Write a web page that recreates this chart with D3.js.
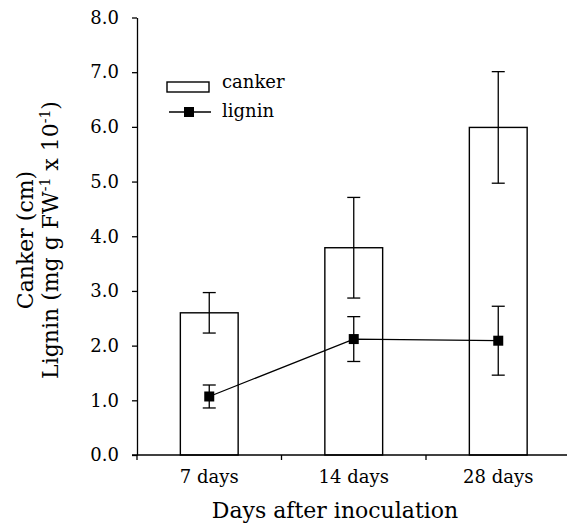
<!DOCTYPE html>
<html>
<head>
  <meta charset="utf-8">
  <title>Canker and lignin after inoculation</title>
  <script src="https://d3js.org/d3.v7.min.js"></script>
  <style>
    body {
      margin: 0;
      background: #fff;
      font-family: "DejaVu Serif", serif;
    }
    .axis path, .axis line {
      stroke: #000;
      stroke-width: 1.3px;
    }
    .axis text {
      font-family: "DejaVu Serif", serif;
      font-size: 18px;
      fill: #000;
    }
    .bar {
      fill: #fff;
      stroke: #000;
      stroke-width: 1.4px;
    }
    .err {
      stroke: #000;
      stroke-width: 1.3px;
    }
    .lignin-line {
      fill: none;
      stroke: #000;
      stroke-width: 1.3px;
    }
    .title {
      font-family: "DejaVu Serif", serif;
      font-size: 22px;
      fill: #000;
    }
    .legend-text {
      font-family: "DejaVu Serif", serif;
      font-size: 18px;
      fill: #000;
    }
  </style>
</head>
<body>
  <div id="chart"></div>

  <script>
    // data
    const days = ["7 days", "14 days", "28 days"];
    const canker = [2.6, 3.79, 5.99];
    const cankerErr = [0.37, 0.92, 1.02];
    const lignin = [1.07, 2.12, 2.09];
    const ligninErr = [0.21, 0.41, 0.63];
    const yTicks = [0, 1, 2, 3, 4, 5, 6, 7, 8];

    const W = 567, H = 525;
    const plot = { left: 137, right: 570.5, top: 17.5, bottom: 455 };

    const svg = d3.select("#chart")
      .append("svg")
      .attr("width", W)
      .attr("height", H);

    // scales
    const x = d3.scaleBand()
      .domain(days)
      .range([plot.left, plot.right])
      .paddingInner(0)
      .paddingOuter(0);
    const y = d3.scaleLinear().domain([0, 8]).range([plot.bottom, plot.top]);

    const barW = x.bandwidth() * 0.4;
    const cx = d => x(d) + x.bandwidth() / 2;

    // bars
    svg.selectAll(".bar")
      .data(days)
      .enter()
      .append("rect")
      .attr("class", "bar")
      .attr("x", d => cx(d) - barW / 2)
      .attr("width", barW)
      .attr("y", (d, i) => y(canker[i]))
      .attr("height", (d, i) => y(0) - y(canker[i]));

    // error bars helper
    function errorBars(cls, vals, errs) {
      const g = svg.append("g").attr("class", cls);
      const capW = 6.5;
      days.forEach((d, i) => {
        const hi = y(vals[i] + errs[i]), lo = y(vals[i] - errs[i]);
        g.append("line").attr("class", "err")
          .attr("x1", cx(d)).attr("x2", cx(d)).attr("y1", hi).attr("y2", lo);
        g.append("line").attr("class", "err")
          .attr("x1", cx(d) - capW).attr("x2", cx(d) + capW).attr("y1", hi).attr("y2", hi);
        g.append("line").attr("class", "err")
          .attr("x1", cx(d) - capW).attr("x2", cx(d) + capW).attr("y1", lo).attr("y2", lo);
      });
    }
    errorBars("canker-err", canker, cankerErr);
    errorBars("lignin-err", lignin, ligninErr);

    // lignin line and markers
    const line = d3.line()
      .x((d, i) => cx(days[i]))
      .y(d => y(d));
    svg.append("path")
      .datum(lignin)
      .attr("class", "lignin-line")
      .attr("d", line);

    svg.selectAll(".marker")
      .data(lignin)
      .enter()
      .append("rect")
      .attr("class", "marker")
      .attr("x", (d, i) => cx(days[i]) - 5)
      .attr("y", d => y(d) - 5)
      .attr("width", 10)
      .attr("height", 10)
      .attr("fill", "#000");

    // y axis
    svg.append("g")
      .attr("class", "axis")
      .attr("transform", `translate(${plot.left},0)`)
      .call(d3.axisLeft(y).tickValues(yTicks).tickFormat(d3.format(".1f"))
        .tickSizeInner(5).tickSizeOuter(0).tickPadding(13));

    // x axis: ticks at category boundaries
    const xAxis = svg.append("g")
      .attr("class", "axis")
      .attr("transform", `translate(0,${plot.bottom})`);
    xAxis.append("line")
      .attr("x1", plot.left - 5).attr("x2", plot.right)
      .attr("y1", 0).attr("y2", 0);
    xAxis.selectAll(".xtick")
      .data(days)
      .enter()
      .append("line")
      .attr("class", "xtick")
      .attr("x1", d => x(d)).attr("x2", d => x(d))
      .attr("y1", 0).attr("y2", 5);
    xAxis.selectAll(".xlabel")
      .data(days)
      .enter()
      .append("text")
      .attr("class", "xlabel")
      .attr("x", d => cx(d))
      .attr("y", 28)
      .attr("text-anchor", "middle")
      .text(d => d);

    // axis titles
    svg.append("text")
      .attr("class", "title")
      .attr("x", 335)
      .attr("y", 518)
      .attr("text-anchor", "middle")
      .text("Days after inoculation");

    const yTitle = svg.append("text")
      .attr("class", "title")
      .attr("transform", "translate(0,240) rotate(-90)")
      .attr("text-anchor", "middle");
    yTitle.append("tspan").attr("x", 0).attr("y", 33).text("Canker (cm)");
    const l2 = yTitle.append("tspan").attr("x", 0).attr("y", 58);
    l2.append("tspan").text("Lignin (mg g FW");
    l2.append("tspan").attr("dy", -8).style("font-size", "14px").text("-1");
    l2.append("tspan").attr("dy", 8).text(" x 10");
    l2.append("tspan").attr("dy", -8).style("font-size", "14px").text("-1");
    l2.append("tspan").attr("dy", 8).text(")");

    // legend
    const legend = svg.append("g");
    legend.append("rect")
      .attr("class", "bar")
      .attr("x", 167).attr("y", 82)
      .attr("width", 42).attr("height", 10);
    legend.append("text")
      .attr("class", "legend-text")
      .attr("x", 222).attr("y", 88)
      .text("canker");
    legend.append("line")
      .attr("class", "err")
      .attr("x1", 169).attr("x2", 211)
      .attr("y1", 112).attr("y2", 112);
    legend.append("rect")
      .attr("x", 184).attr("y", 107)
      .attr("width", 10).attr("height", 10)
      .attr("fill", "#000");
    legend.append("text")
      .attr("class", "legend-text")
      .attr("x", 222).attr("y", 117)
      .text("lignin");
  </script>
</body>
</html>
